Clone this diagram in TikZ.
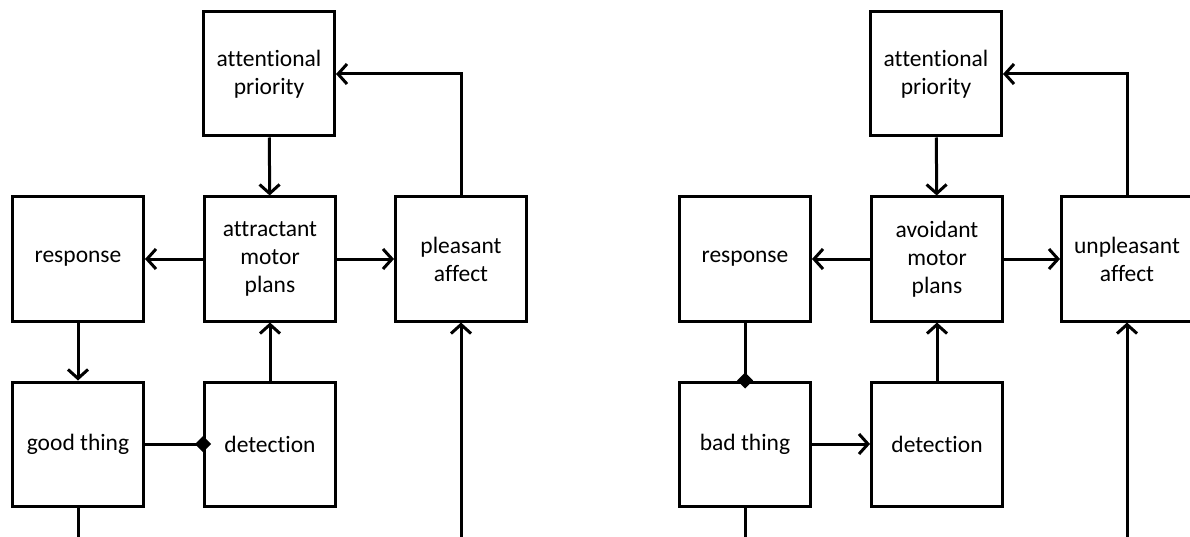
\documentclass[tikz,border=0pt]{standalone}
\usepackage{fontspec}
\setmainfont[Ligatures={NoCommon}]{Carlito}
\usetikzlibrary{arrows.meta}

\begin{document}
\begin{tikzpicture}[x=1pt,y=-1pt,
    box/.style={draw, line width=3pt, minimum width=131pt, minimum height=124pt,
      align=center, font=\fontsize{23.5}{28}\selectfont},
    link/.style={line width=3pt, -{Straight Barb[length=9pt,width=20pt]}},
    tie/.style={line width=3pt, -{Diamond[length=16pt,width=16pt]}, shorten >=-8pt},
    wire/.style={line width=3pt}]
  \useasboundingbox (0,0) rectangle (1190,537);
  \clip (0,0) rectangle (1190,537);
  \begin{scope}
    \node[box] (prio) at (269,74) {attentional\\priority};
    \node[box] (resp) at (78,259) {response};
    \node[box] (plans) at (270,259) {attractant\\motor\\plans};
    \node[box] (affect) at (461,259) {pleasant\\affect};
    \node[box] (thing) at (78,444) {good thing};
    \node[box] (detect) at (270,444) {detection};
    \coordinate (thingout) at (78,540);
    \coordinate (affectin) at (461,540);

    \draw[link] (prio) -- (plans);
    \draw[link] (plans) -- (resp);
    \draw[link] (plans) -- (affect);
    \draw[link] (affect.north) |- (prio.east);
    \draw[link] (resp) -- (thing);
    \draw[link] (detect) -- (plans);
    \draw[tie] (thing) -- (detect);
    \draw[wire] (thing) -- (thingout);
    \draw[link] (affectin) -- (affect);
  \end{scope}
  \begin{scope}
    \node[box] (prio2) at (936,74) {attentional\\priority};
    \node[box] (resp2) at (745,259) {response};
    \node[box] (plans2) at (937,259) {avoidant\\motor\\plans};
    \node[box] (affect2) at (1127,259) {unpleasant\\affect};
    \node[box] (thing2) at (745,444) {bad thing};
    \node[box] (detect2) at (937,444) {detection};
    \coordinate (thingout2) at (745,540);
    \coordinate (affectin2) at (1127,540);

    \draw[link] (prio2) -- (plans2);
    \draw[link] (plans2) -- (resp2);
    \draw[link] (plans2) -- (affect2);
    \draw[link] (affect2.north) |- (prio2.east);
    \draw[tie] (resp2) -- (thing2);
    \draw[link] (thing2) -- (detect2);
    \draw[link] (detect2) -- (plans2);
    \draw[wire] (thing2) -- (thingout2);
    \draw[link] (affectin2) -- (affect2);
  \end{scope}
\end{tikzpicture}
\end{document}
